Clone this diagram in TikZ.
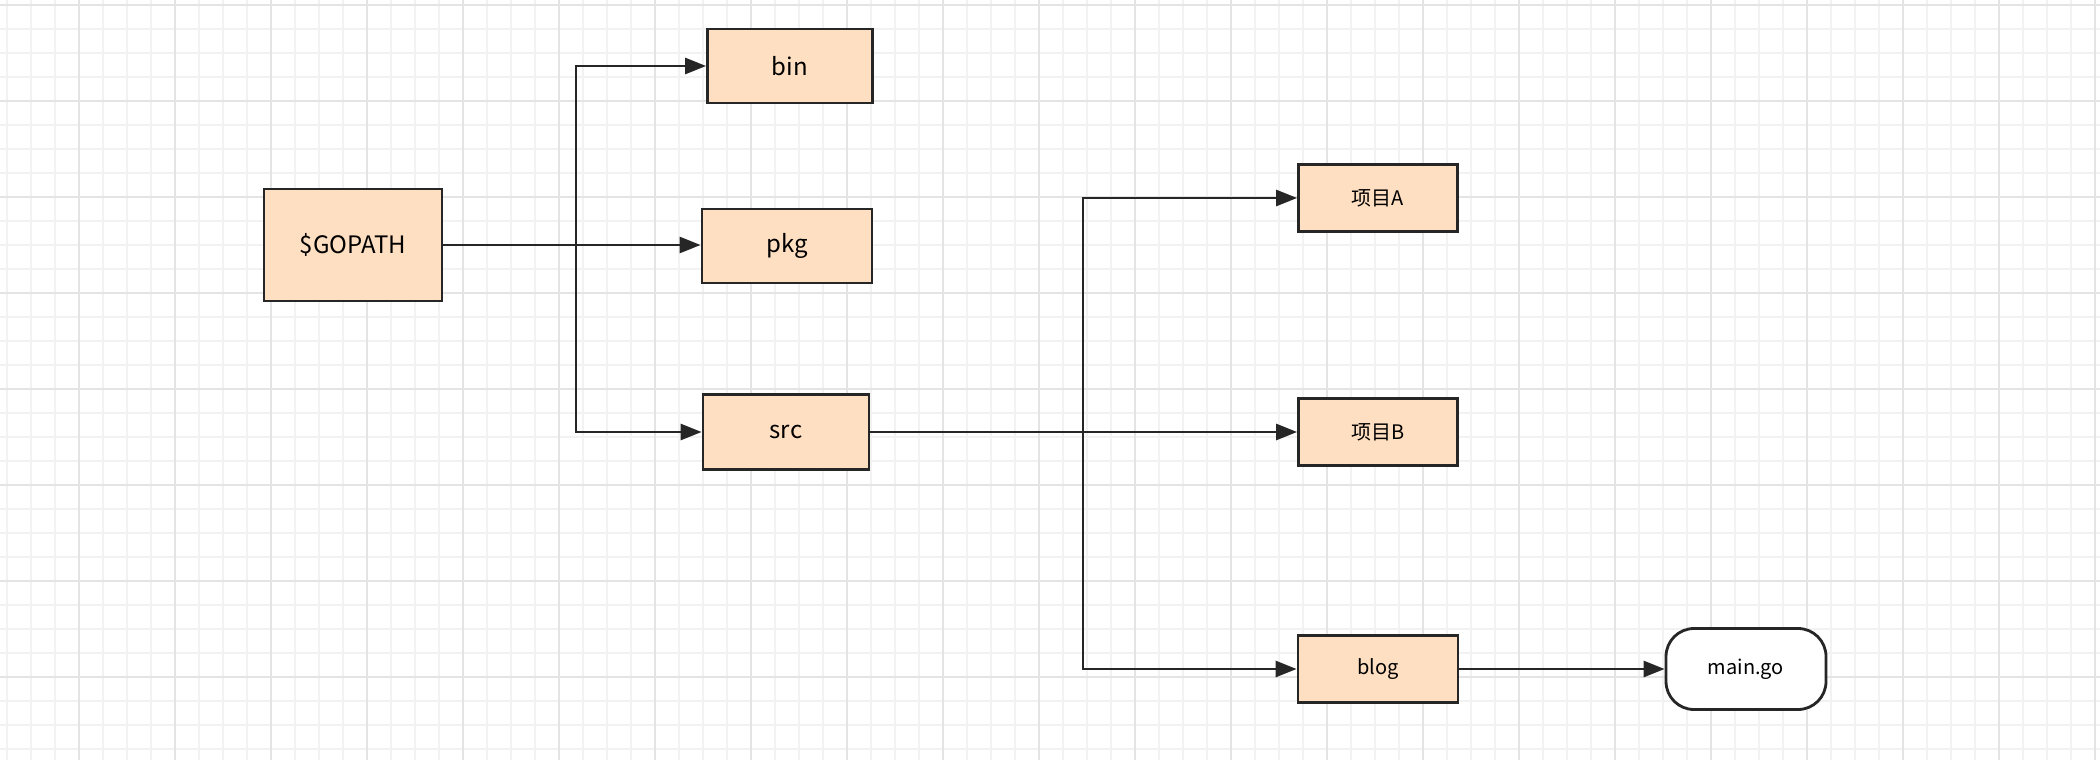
\documentclass[tikz,border=0pt]{standalone}
\usepackage{fontspec}
\newfontfamily\cjk{Noto Sans CJK SC}
\usetikzlibrary{arrows.meta}

\definecolor{boxFill}{RGB}{255,223,193}
\definecolor{boxLine}{RGB}{38,38,38}
\definecolor{gridMinor}{RGB}{242,242,242}
\definecolor{gridMajor}{RGB}{228,228,228}

\tikzset{
	folder/.style={draw=boxLine, fill=boxFill, line width=2.8pt, inner sep=0pt, font=\cjk\fontsize{24}{28}\selectfont},
	small/.style={font=\cjk\fontsize{20}{24}\selectfont},
	link/.style={draw=boxLine, line width=2.8pt, -{Triangle[length=21pt,width=16pt]}},
}

\begin{document}
\begin{tikzpicture}[x=1pt, y=-1pt]
		% Define the size of the page
		\useasboundingbox (0, 0) rectangle (2100, 760);
		\fill[white] (0, 0) rectangle (2100, 760);
		
		% Create the grid in the background
		\foreach \gx in {7,31,...,2100}
			\draw[gridMinor, line width=2pt] (\gx, 0) -- (\gx, 760);
		\foreach \gy in {5,29,...,760}
			\draw[gridMinor, line width=2pt] (0, \gy) -- (2100, \gy);
		\foreach \gx in {79,175,...,2100}
			\draw[gridMajor, line width=2pt] (\gx, 0) -- (\gx, 760);
		\foreach \gy in {5,101,...,760}
			\draw[gridMajor, line width=2pt] (0, \gy) -- (2100, \gy);
		
		% Folders of the first level
		\node[folder, minimum width=178, minimum height=112] (gopath) at (353, 245) {\$GOPATH};
		\node[folder, minimum width=165, minimum height=74] (binBox) at (790, 66) {bin};
		\node[folder, minimum width=170, minimum height=74] (pkgBox) at (787, 246) {pkg};
		\node[folder, minimum width=166, minimum height=75] (srcBox) at (786, 432) {src};
		
		% Folders inside src
		\node[folder, small, minimum width=159, minimum height=67] (projA) at (1378, 198) {项目A};
		\node[folder, small, minimum width=159, minimum height=67] (projB) at (1378, 432) {项目B};
		\node[folder, small, minimum width=160, minimum height=67] (blogBox) at (1378, 669) {blog};
		
		% The file inside blog
		\node[draw=boxLine, fill=white, line width=2.8pt, rounded corners=28pt, small, minimum width=160, minimum height=81] (mainGo) at (1746, 669) {main.go};
		
		% Calculate the position of the vertical lines
		\coordinate (firstTrunk) at (576, 245);
		\coordinate (secondTrunk) at (1083, 432);
		
		% Connectors from $GOPATH
		\draw[link] (gopath.east) -- (firstTrunk) |- (binBox.west);
		\draw[link] (gopath.east) -- (gopath.east -| pkgBox.west);
		\draw[link] (gopath.east) -- (firstTrunk) |- (srcBox.west);
		
		% Connectors from src
		\draw[link] (srcBox.east) -- (secondTrunk) |- (projA.west);
		\draw[link] (srcBox.east) -- (projB.west);
		\draw[link] (srcBox.east) -- (secondTrunk) |- (blogBox.west);
		
		% Connector from blog
		\draw[link] (blogBox.east) -- (mainGo.west);
	\end{tikzpicture}
\end{document}
